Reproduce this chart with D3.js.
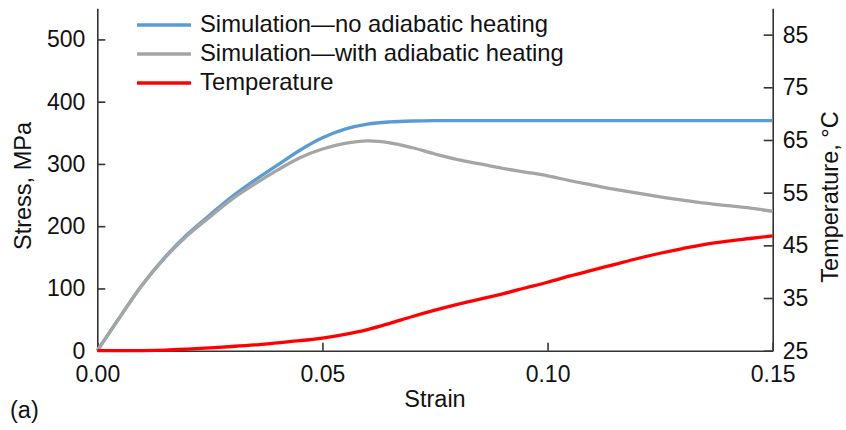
<!DOCTYPE html>
<html>
<head>
<meta charset="utf-8">
<script src="https://cdn.jsdelivr.net/npm/d3@7"></script>
<style>
  html, body { margin: 0; padding: 0; background: #fff; }
  svg { display: block; font-family: "Liberation Sans", Arial, sans-serif; }
</style>
</head>
<body>
<svg id="chart" width="846" height="430"></svg>
<script>
// Strain sample points
const strain = [0, 0.005, 0.01, 0.015, 0.02, 0.025, 0.03, 0.035, 0.04, 0.045,
  0.05, 0.055, 0.06, 0.065, 0.07, 0.075, 0.08, 0.085, 0.09, 0.095,
  0.10, 0.105, 0.11, 0.115, 0.12, 0.125, 0.13, 0.135, 0.14, 0.145, 0.15];

// Stress (MPa), simulation without adiabatic heating
const stressNoHeating = [0, 54, 106, 150, 187, 218, 248, 274, 298, 322,
  342, 356, 364, 367.5, 369, 369.5, 369.5, 369.5, 369.5, 369.5,
  369.5, 369.5, 369.5, 369.5, 369.5, 369.5, 369.5, 369.5, 369.5, 369.5, 369.5];

// Stress (MPa), simulation with adiabatic heating
const stressWithHeating = [0, 54, 106, 149, 185, 215, 244, 268, 290, 310,
  324, 333, 337, 334, 326, 316, 307, 300, 293, 287,
  281, 273, 266, 259, 253, 247, 242, 237, 233, 229, 224];

// Temperature (°C)
const temperature = [25, 25, 25.02, 25.1, 25.3, 25.55, 25.8, 26.1, 26.5, 26.9,
  27.4, 28.1, 29.0, 30.2, 31.5, 32.7, 33.8, 34.8, 35.8, 36.9,
  38.0, 39.2, 40.3, 41.4, 42.5, 43.5, 44.4, 45.2, 45.8, 46.3, 46.8];

const strainTicks = [0, 0.05, 0.10, 0.15];
const stressTicks = [0, 100, 200, 300, 400, 500];
const tempTicks = [25, 35, 45, 55, 65, 75, 85];

const seriesNames = ["Simulation\u2014no adiabatic heating", "Simulation\u2014with adiabatic heating", "Temperature"];
const seriesColors = ["#5b9bd5", "#a5a5a5", "#ff0000"];

const svg = d3.select("#chart");
const plotLeft = 97.3, plotRight = 772.7, plotTop = 8.3, plotBottom = 350.7;

const x = d3.scaleLinear().domain([0, 0.15]).range([plotLeft, plotRight]);
const yS = d3.scaleLinear().domain([0, 550]).range([plotBottom, plotTop]);
const yT = d3.scaleLinear().domain([25, 90]).range([plotBottom, plotTop]);

const axisColor = "#333";
const tickFont = 23;
const labelFont = 23.5;

// Axes with inward ticks
const gx = svg.append("g").attr("transform", `translate(0,${plotBottom})`)
  .call(d3.axisBottom(x).tickValues(strainTicks).tickFormat(d3.format(".2f")).tickSizeInner(-8).tickSizeOuter(0).tickPadding(15));
const gl = svg.append("g").attr("transform", `translate(${plotLeft},0)`)
  .call(d3.axisLeft(yS).tickValues(stressTicks).tickSizeInner(-8).tickSizeOuter(0).tickPadding(12));
const gr = svg.append("g").attr("transform", `translate(${plotRight},0)`)
  .call(d3.axisRight(yT).tickValues(tempTicks).tickSizeInner(-9).tickSizeOuter(0).tickPadding(10));

[gx, gl, gr].forEach(g => {
  g.select(".domain").attr("stroke", axisColor).attr("stroke-width", 1.6);
  g.selectAll(".tick line").attr("stroke", axisColor).attr("stroke-width", 1.6);
  g.selectAll(".tick text").attr("fill", "#111").attr("font-size", tickFont)
    .attr("font-family", "Liberation Sans, Arial, sans-serif");
});

// Lines
const curve = d3.curveCatmullRom.alpha(0.5);
const lineS = d3.line().x((d, i) => x(strain[i])).y(d => yS(d)).curve(curve);
const lineT = d3.line().x((d, i) => x(strain[i])).y(d => yT(d)).curve(curve);

svg.append("path").datum(stressNoHeating).attr("d", lineS)
  .attr("fill", "none").attr("stroke", seriesColors[0]).attr("stroke-width", 3.3);
svg.append("path").datum(stressWithHeating).attr("d", lineS)
  .attr("fill", "none").attr("stroke", seriesColors[1]).attr("stroke-width", 3.3);
svg.append("path").datum(temperature).attr("d", lineT)
  .attr("fill", "none").attr("stroke", seriesColors[2]).attr("stroke-width", 3.3);

// Axis titles
svg.append("text").attr("x", plotLeft + (plotRight - plotLeft) / 2).attr("y", 407)
  .attr("text-anchor", "middle").attr("font-size", labelFont).attr("fill", "#111").text("Strain");
svg.append("text").attr("transform", "translate(31,186) rotate(-90)")
  .attr("text-anchor", "middle").attr("font-size", labelFont).attr("fill", "#111").text("Stress, MPa");
svg.append("text").attr("transform", "translate(838,197) rotate(-90)")
  .attr("text-anchor", "middle").attr("font-size", labelFont).attr("fill", "#111").text("Temperature, \u00b0C");
svg.append("text").attr("x", 10).attr("y", 418)
  .attr("font-size", labelFont).attr("fill", "#111").text("(a)");

// Legend
const legend = svg.append("g");
seriesNames.forEach((name, i) => {
  const ly = 25 + i * 29;
  legend.append("line").attr("x1", 137).attr("x2", 191).attr("y1", ly).attr("y2", ly)
    .attr("stroke", seriesColors[i]).attr("stroke-width", 3.3);
  legend.append("text").attr("x", 200).attr("y", ly).attr("dy", "0.29em")
    .attr("font-size", 23.8).attr("fill", "#111").text(name);
});
</script>
</body>
</html>
